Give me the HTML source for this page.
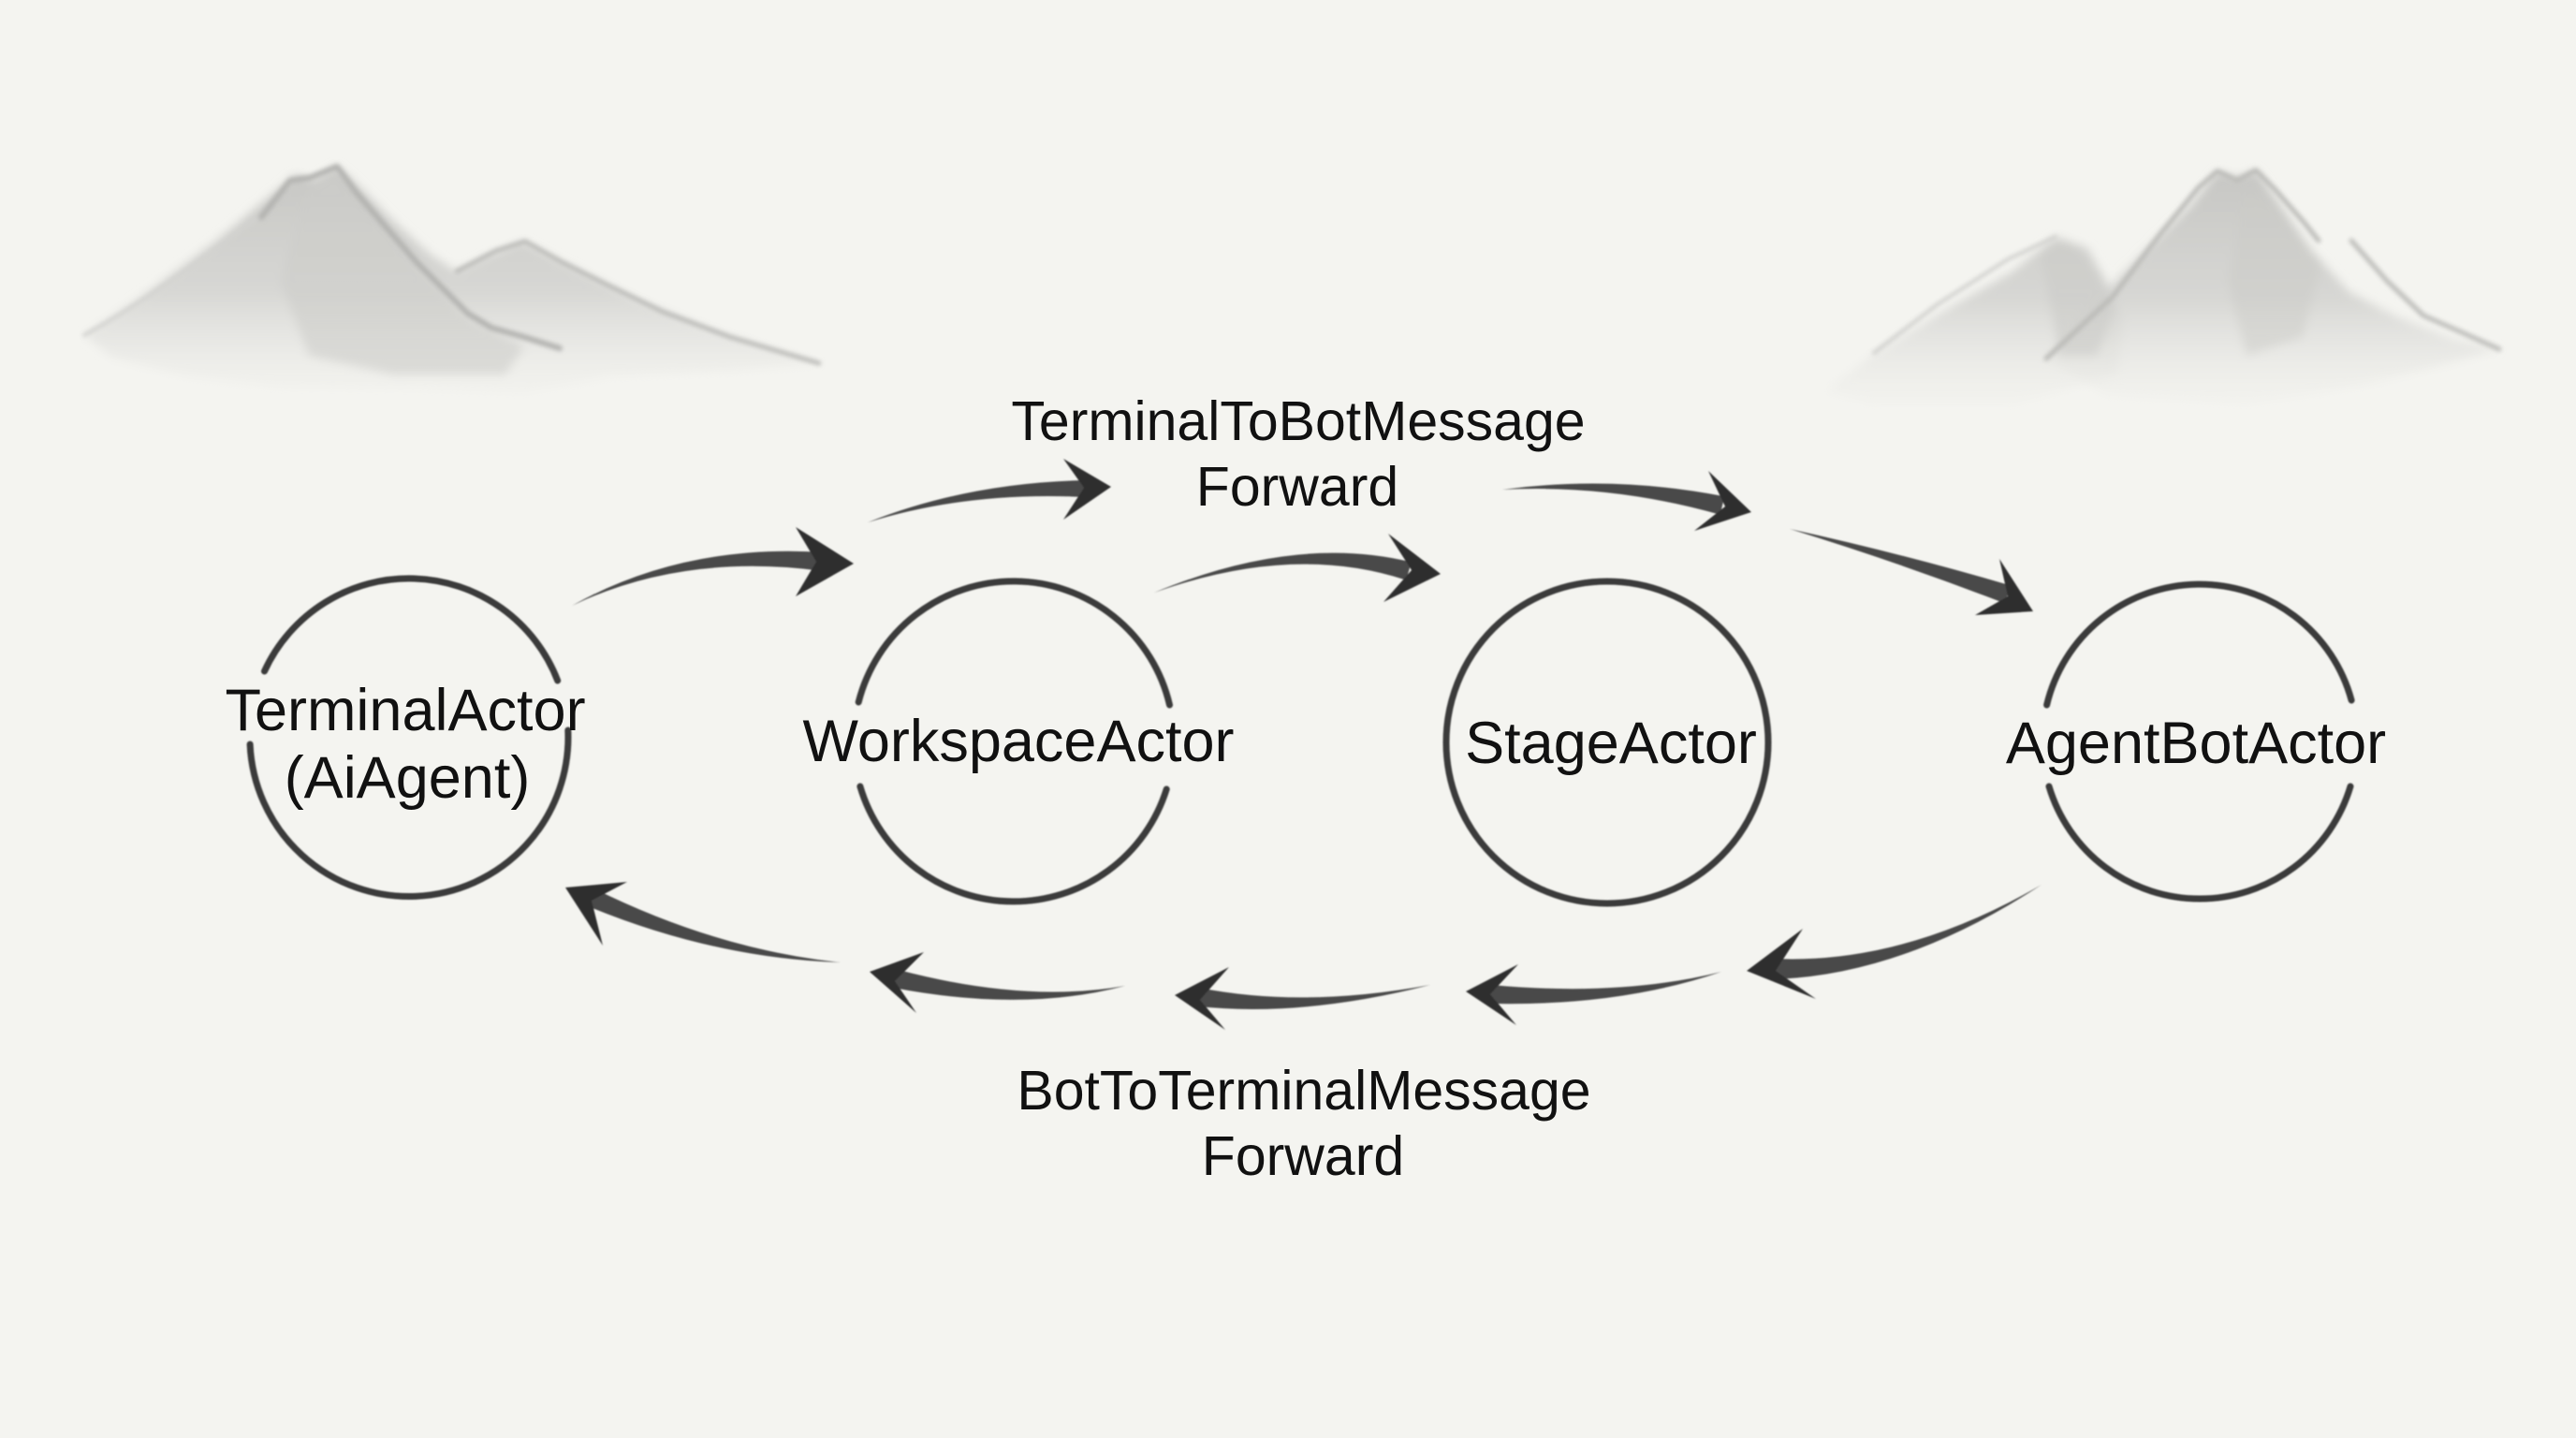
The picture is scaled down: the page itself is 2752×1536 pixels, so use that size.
<!DOCTYPE html>
<html>
<head>
<meta charset="utf-8">
<style>
  html, body { margin:0; padding:0; background:#f4f4f0; }
  body { width:2752px; height:1536px; overflow:hidden; }
  svg { display:block; }
  text { font-family:"Liberation Sans", "DejaVu Sans", sans-serif; fill:#111; }
</style>
</head>
<body>
<svg width="2752" height="1536" viewBox="0 0 2752 1536" xmlns="http://www.w3.org/2000/svg">
  <defs>
    <filter id="wash" x="-20%" y="-20%" width="140%" height="140%">
      <feGaussianBlur stdDeviation="5"/>
    </filter>
    <filter id="ridge" x="-10%" y="-10%" width="120%" height="120%">
      <feGaussianBlur stdDeviation="2.4"/>
    </filter>
    <filter id="ink" x="-10%" y="-10%" width="120%" height="120%">
      <feGaussianBlur stdDeviation="0.9"/>
    </filter>
    <linearGradient id="mgL" gradientUnits="userSpaceOnUse" x1="0" y1="175" x2="0" y2="425">
      <stop offset="0" stop-color="#c6c6c3" stop-opacity="1"/>
      <stop offset="0.55" stop-color="#d4d4d1" stop-opacity="0.9"/>
      <stop offset="1" stop-color="#ececE8" stop-opacity="0.2"/>
    </linearGradient>
    <linearGradient id="mgR" gradientUnits="userSpaceOnUse" x1="0" y1="180" x2="0" y2="435">
      <stop offset="0" stop-color="#c6c6c3" stop-opacity="1"/>
      <stop offset="0.55" stop-color="#d4d4d1" stop-opacity="0.9"/>
      <stop offset="1" stop-color="#ececE8" stop-opacity="0.2"/>
    </linearGradient>
  </defs>

  <rect width="2752" height="1536" fill="#f4f4f0"/>

  <!-- Left mountains -->
  <g filter="url(#wash)">
    <polygon fill="url(#mgL)" points="90,358 150,318 230,258 300,200 315,187 335,192 360,178 380,196 420,236 460,272 488,290 520,274 559,258 600,280 680,320 760,352 875,388 780,396 650,402 560,420 450,416 300,414 200,402 120,382"/>
    <polygon fill="#cdcdca" opacity="0.6" points="330,200 360,185 400,235 450,290 500,340 560,370 540,400 420,400 330,380 300,300"/>
  </g>
  <g filter="url(#ridge)" fill="none" stroke-linecap="round" stroke-linejoin="round">
    <path d="M90,358 C160,320 230,265 279,230" stroke="#d2d2cf" stroke-width="4"/>
    <path d="M279,232 L310,193 L331,190 L360,178 L380,205 L410,240 L445,280 L470,305 L500,335 L525,350 L560,360 L598,372" stroke="#b3b3b0" stroke-width="6"/>
    <path d="M488,290 L530,268 L561,258 L600,280 L650,305 L708,333 L780,360 L875,388" stroke="#bdbdba" stroke-width="5"/>
  </g>

  <!-- Right mountains -->
  <g filter="url(#wash)">
    <polygon fill="url(#mgR)" points="1951,417 2000,380 2080,330 2150,290 2196,253 2230,265 2250,300 2268,340 2262,400 2150,432 2000,432"/>
    <polygon fill="url(#mgR)" points="2186,383 2230,330 2290,270 2340,220 2369,183 2390,190 2410,182 2430,210 2470,268 2510,312 2560,338 2620,362 2670,373 2600,392 2520,412 2400,432 2250,422"/>
    <polygon fill="#cbcbc8" opacity="0.6" points="2180,270 2210,258 2240,290 2260,330 2240,380 2200,380"/>
    <polygon fill="#cbcbc8" opacity="0.5" points="2400,200 2440,230 2480,280 2460,360 2400,380 2380,300"/>
  </g>
  <g filter="url(#ridge)" fill="none" stroke-linecap="round" stroke-linejoin="round">
    <path d="M2002,377 L2070,325 L2145,277 L2196,253" stroke="#d0d0cd" stroke-width="4"/>
    <path d="M2186,383 L2257,317 L2308,250 L2349,200 L2369,183 L2390,193 L2410,182 L2431,203 L2461,237 L2477,257" stroke="#bbbbb8" stroke-width="5"/>
    <path d="M2512,257 L2550,300 L2589,337 L2630,355 L2670,373" stroke="#bdbdba" stroke-width="5"/>
  </g>

  <!-- Circles -->
  <g fill="none" stroke="#3b3b3b" stroke-width="7" stroke-linecap="round" filter="url(#ink)">
    <path d="M606.8,780 A170,170 0 1 1 267.1,795"/>
    <path d="M282.5,717 A170,170 0 0 1 595.7,727"/>
    <path d="M1246.2,843 A171,171 0 0 1 918.9,840"/>
    <path d="M917.2,750 A171,171 0 0 1 1249.5,753"/>
    <circle cx="1717" cy="793" r="172"/>
    <path d="M2511,840 A168,168 0 0 1 2189,840"/>
    <path d="M2186.6,753 A168,168 0 0 1 2512.1,748"/>
  </g>

  <!-- Arrows -->
  <g filter="url(#ink)">
    <g fill="#4a4a4a">
      <path d="M611,647 Q729.5,590 879,610 L881,590 Q730.5,580 611,647 Z"/>
      <path d="M927,558 Q1034,524.5 1160,531 L1160,513 Q1034,515.5 927,558 Z"/>
      <path d="M1233,633 Q1381.6,579.8 1502.2,619.6 L1507.8,600.4 Q1384.4,570.2 1233,633 Z"/>
      <path d="M1605,523 Q1721.8,516.9 1837.7,549.7 L1842.3,530.3 Q1724.2,507.1 1605,523 Z"/>
      <path d="M1912,565 Q2028.4,600.7 2141.8,644.5 L2148.2,625.5 Q2031.6,591.3 1912,565 Z"/>
      <path d="M898,1028 Q766.1,1014.4 634.1,948.9 L625.9,967.1 Q761.9,1023.6 898,1028 Z"/>
      <path d="M1202,1053 Q1095.1,1072.1 957.2,1035.3 L952.8,1054.8 Q1092.9,1081.9 1202,1053 Z"/>
      <path d="M1528,1052 Q1392.8,1077.1 1281.5,1055.1 L1278.5,1074.9 Q1391.2,1086.9 1528,1052 Z"/>
      <path d="M1839,1038 Q1731.3,1065 1592.6,1052 L1591.4,1072 Q1730.7,1075 1839,1038 Z"/>
      <path d="M2181,945 Q2034,1030.5 1895,1024 L1895,1046 Q2034,1041.5 2181,945 Z"/>
    </g>
    <g fill="#2f2f2f">
      <polygon points="850,563 912,602 850,637 872,600"/>
      <polygon points="1136,490 1187,520 1136,555 1158,521"/>
      <polygon points="1483,570 1539,613 1478,643 1508,609"/>
      <polygon points="1825,503 1871,547 1810,567 1843,541"/>
      <polygon points="2136,597 2172,653 2110,657 2145,637"/>
      <polygon points="670,942 604,948 644,1010 632,962"/>
      <polygon points="987,1017 929,1038 979,1082 956,1048"/>
      <polygon points="1313,1033 1255,1063 1309,1100 1282,1068"/>
      <polygon points="1622,1030 1566,1059 1620,1095 1592,1062"/>
      <polygon points="1926,992 1866,1037 1940,1067 1897,1037"/>
    </g>
  </g>

  <!-- Node labels -->
  <g font-size="63" text-anchor="middle">
    <text x="433" y="780">TerminalActor</text>
    <text x="435" y="852">(AiAgent)</text>
    <text x="1088" y="813">WorkspaceActor</text>
    <text x="1721" y="815">StageActor</text>
    <text x="2346" y="815">AgentBotActor</text>
  </g>

  <!-- Edge labels -->
  <g font-size="59" text-anchor="middle">
    <text x="1387" y="470">TerminalToBotMessage</text>
    <text x="1386" y="540">Forward</text>
    <text x="1393" y="1185">BotToTerminalMessage</text>
    <text x="1392" y="1255">Forward</text>
  </g>
</svg>
</body>
</html>
